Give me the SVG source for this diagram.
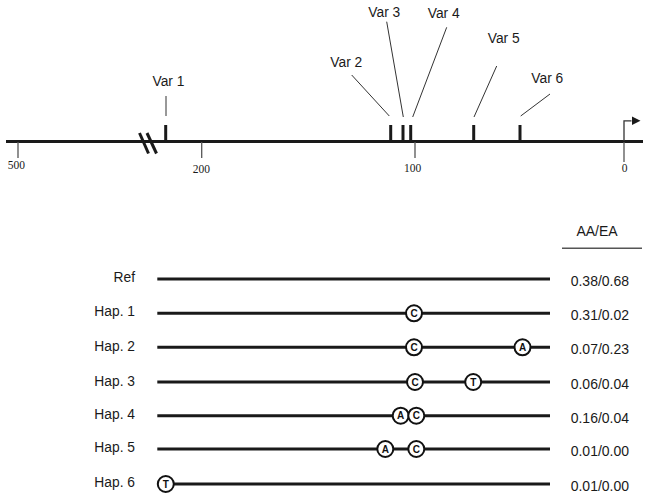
<svg xmlns="http://www.w3.org/2000/svg" width="649" height="500" viewBox="0 0 649 500">
<style>
.lbl{font-family:"Liberation Sans",Arial,sans-serif;font-size:13.8px;fill:#1a1a1a}
.val{font-family:"Liberation Sans",Arial,sans-serif;font-size:14px;fill:#1a1a1a}
.num{font-family:"Liberation Serif","Times New Roman",serif;font-size:11.5px;fill:#1a1a1a;text-anchor:middle}
.axis{stroke:#1a1a1a;stroke-width:3;fill:none}
.tick{stroke:#555;stroke-width:1.3}
.var{stroke:#1a1a1a;stroke-width:3}
.lead{stroke:#333;stroke-width:1}
.hap{stroke:#1a1a1a;stroke-width:3}
.snp circle{fill:#fff;stroke:#111;stroke-width:2}
.snp text{font-family:"Liberation Sans",Arial,sans-serif;font-size:10px;font-weight:bold;fill:#111;text-anchor:middle}
</style>
<defs>
<marker id="arr" markerWidth="10" markerHeight="10" refX="0" refY="4.5" orient="auto" markerUnits="userSpaceOnUse">
<path d="M0,0 L9,4.5 L0,9 Z" fill="#1a1a1a"/>
</marker>
</defs>
<g id="gene-axis">
<line class="axis" x1="6" y1="141.5" x2="643" y2="141.5"/>
<line class="axis" x1="139.5" y1="133" x2="148.5" y2="153.5"/>
<line class="axis" x1="147" y1="133" x2="156.5" y2="153.5"/>
<line class="tick" x1="18" y1="142" x2="18" y2="158"/>
<line class="tick" x1="201.7" y1="142" x2="201.7" y2="158"/>
<line class="tick" x1="415" y1="142" x2="415" y2="158"/>
<line class="tick" x1="624" y1="142" x2="624" y2="162"/>
<text class="num" x="16.3" y="169">500</text>
<text class="num" x="201.3" y="172.5">200</text>
<text class="num" x="412.5" y="171.5">100</text>
<text class="num" x="624.5" y="171.5">0</text>
<path d="M624,141 V120.8 H631.5" stroke="#333" stroke-width="1.3" fill="none" marker-end="url(#arr)"/>
</g>
<g id="variants">
<line class="var" x1="165.7" y1="125" x2="165.7" y2="142"/>
<line class="var" x1="390.7" y1="125" x2="390.7" y2="142"/>
<line class="var" x1="403" y1="125" x2="403" y2="142"/>
<line class="var" x1="410.7" y1="125" x2="410.7" y2="142"/>
<line class="var" x1="473.7" y1="125" x2="473.7" y2="142"/>
<line class="var" x1="520" y1="125" x2="520" y2="142"/>
</g>
<g id="connectors">
<line class="lead" x1="166" y1="96" x2="166" y2="116" stroke="#777"/>
<line class="lead" x1="351.7" y1="75" x2="389.3" y2="116"/>
<line class="lead" x1="386.7" y1="21.7" x2="403.3" y2="117"/>
<line class="lead" x1="446.7" y1="27.3" x2="412.7" y2="117"/>
<line class="lead" x1="496.7" y1="66" x2="474" y2="117"/>
<line class="lead" x1="550" y1="94" x2="520.7" y2="116"/>
</g>
<g id="var-labels" class="lbl" text-anchor="middle">
<text x="168.5" y="85.7">Var 1</text>
<text x="346.3" y="66.7">Var 2</text>
<text x="384.3" y="16.7">Var 3</text>
<text x="443.7" y="18.3">Var 4</text>
<text x="503.7" y="43.3">Var 5</text>
<text x="547.3" y="82.7">Var 6</text>
</g>
<g id="header">
<text class="val" x="597" y="235.7" text-anchor="middle">AA/EA</text>
<line x1="562" y1="248.3" x2="642" y2="248.3" stroke="#555" stroke-width="1.5"/>
</g>
<g id="ref">
<text class="lbl" x="135" y="282" text-anchor="end">Ref</text>
<line class="hap" x1="157.3" y1="279" x2="550" y2="279"/>
<text class="val" x="570.7" y="286">0.38/0.68</text>
</g>
<g id="hap1">
<text class="lbl" x="135" y="316" text-anchor="end">Hap. 1</text>
<line class="hap" x1="157.3" y1="313.3" x2="550" y2="313.3"/>
<g class="snp"><circle cx="414" cy="313.3" r="8"/><text x="414" y="317">C</text></g>
<text class="val" x="570.7" y="320.3">0.31/0.02</text>
</g>
<g id="hap2">
<text class="lbl" x="135" y="350.5" text-anchor="end">Hap. 2</text>
<line class="hap" x1="157.3" y1="347.3" x2="550" y2="347.3"/>
<g class="snp"><circle cx="414" cy="347.3" r="8"/><text x="414" y="351">C</text></g>
<g class="snp"><circle cx="522.5" cy="347.3" r="8"/><text x="522.5" y="351">A</text></g>
<text class="val" x="570.7" y="354.3">0.07/0.23</text>
</g>
<g id="hap3">
<text class="lbl" x="135" y="385.5" text-anchor="end">Hap. 3</text>
<line class="hap" x1="157.3" y1="382" x2="550" y2="382"/>
<g class="snp"><circle cx="415" cy="382" r="8"/><text x="415" y="385.7">C</text></g>
<g class="snp"><circle cx="473.2" cy="382" r="8"/><text x="473.2" y="385.7">T</text></g>
<text class="val" x="570.7" y="389">0.06/0.04</text>
</g>
<g id="hap4">
<text class="lbl" x="135" y="419" text-anchor="end">Hap. 4</text>
<line class="hap" x1="157.3" y1="415.7" x2="550" y2="415.7"/>
<g class="snp"><circle cx="400.7" cy="415.7" r="8"/><text x="400.7" y="419.4">A</text></g>
<g class="snp"><circle cx="416.3" cy="415.7" r="8"/><text x="416.3" y="419.4">C</text></g>
<text class="val" x="570.7" y="422.7">0.16/0.04</text>
</g>
<g id="hap5">
<text class="lbl" x="135" y="452.3" text-anchor="end">Hap. 5</text>
<line class="hap" x1="157.3" y1="449" x2="550" y2="449"/>
<g class="snp"><circle cx="385.3" cy="449" r="8"/><text x="385.3" y="452.7">A</text></g>
<g class="snp"><circle cx="416.3" cy="449" r="8"/><text x="416.3" y="452.7">C</text></g>
<text class="val" x="570.7" y="456">0.01/0.00</text>
</g>
<g id="hap6">
<text class="lbl" x="135" y="487.3" text-anchor="end">Hap. 6</text>
<line class="hap" x1="165.8" y1="484" x2="550" y2="484"/>
<g class="snp"><circle cx="165.8" cy="484" r="8"/><text x="165.8" y="487.7">T</text></g>
<text class="val" x="570.7" y="491">0.01/0.00</text>
</g>
</svg>
